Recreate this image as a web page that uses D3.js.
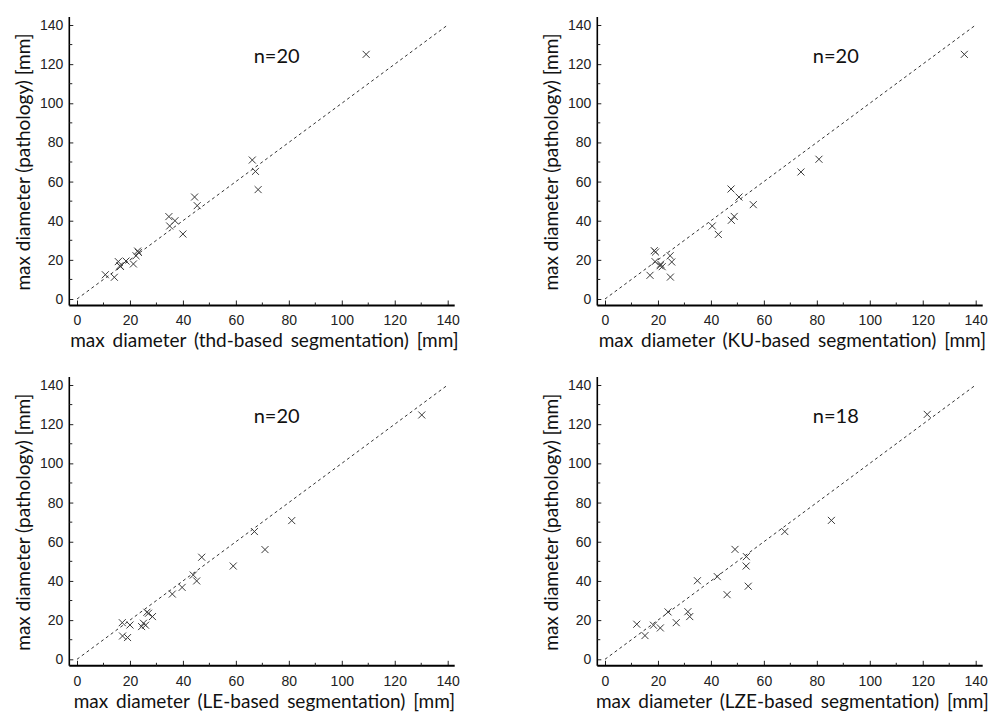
<!DOCTYPE html>
<html>
<head>
<meta charset="utf-8">
<script src="https://cdn.jsdelivr.net/npm/d3@7"></script>
<style>
  html, body { margin: 0; padding: 0; background: #fff; }
  svg { display: block; }
</style>
</head>
<body>
<svg id="chart" width="998" height="713"></svg>
<script>
// ---- data ----
const tickValues = [0, 20, 40, 60, 80, 100, 120, 140];
const minorTickValues = [10, 30, 50, 70, 90, 110, 130];
const yTitle = "max diameter (pathology) [mm]";
const panelTitles = [
  "max diameter (thd-based segmentation) [mm]",
  "max diameter (KU-based segmentation) [mm]",
  "max diameter (LE-based segmentation) [mm]",
  "max diameter (LZE-based segmentation) [mm]"
];
const panelCounts = ["n=20", "n=20", "n=20", "n=18"];

const thdX = [109.2, 66.2, 67.4, 68.4, 44.4, 45.4, 34.7, 35.0, 37.0, 40.0, 22.9, 23.2, 22.3, 21.3, 18.5, 15.6, 16.2, 16.4, 10.7, 14.1];
const thdY = [125.0, 71.0, 65.2, 55.9, 52.1, 47.7, 42.1, 37.3, 40.0, 33.2, 24.5, 23.8, 22.1, 17.9, 19.4, 19.1, 17.0, 16.6, 12.4, 11.1];

const kuX = [135.7, 80.8, 74.0, 47.6, 50.6, 56.0, 48.8, 47.7, 40.5, 42.8, 18.6, 19.1, 18.9, 20.8, 21.6, 24.6, 25.2, 17.0, 24.7, 21.0];
const kuY = [125.0, 71.4, 64.9, 56.2, 52.1, 48.2, 42.2, 40.2, 37.3, 33.0, 24.7, 24.0, 19.1, 17.0, 16.5, 22.1, 18.9, 12.1, 11.2, 17.8];

const leX = [130.2, 81.1, 71.0, 67.0, 59.0, 47.1, 43.9, 45.2, 39.7, 36.0, 26.4, 27.0, 28.5, 25.1, 24.4, 25.9, 17.1, 20.0, 17.2, 19.1];
const leY = [124.7, 70.8, 56.0, 65.2, 47.6, 52.1, 43.0, 40.0, 36.7, 33.3, 24.0, 23.5, 21.8, 18.4, 16.7, 17.4, 18.7, 17.5, 11.9, 11.1];

const lzeX = [121.7, 85.5, 67.9, 49.1, 53.4, 53.3, 54.1, 42.4, 34.9, 46.1, 23.8, 31.3, 32.0, 26.9, 18.3, 20.9, 12.0, 15.1];
const lzeY = [125.0, 70.9, 65.2, 56.1, 52.4, 47.6, 37.3, 42.2, 40.1, 33.0, 24.2, 24.3, 21.8, 18.7, 17.4, 16.0, 17.9, 12.1];

const identityLine = [0, 140];

// ---- layout ----
const panels = [
  { xs: thdX, ys: thdY, left: 77,  right: 447.7, bottom: 299,   top: 25 },
  { xs: kuX,  ys: kuY,  left: 605, right: 975.7, bottom: 299,   top: 25 },
  { xs: leX,  ys: leY,  left: 77,  right: 447.7, bottom: 659.3, top: 385 },
  { xs: lzeX, ys: lzeY, left: 605, right: 975.7, bottom: 659.3, top: 385 }
];

const svg = d3.select("#chart");
const tickFont = "'Liberation Sans', Arial, sans-serif";
const titleFont = "Lato, 'Open Sans', sans-serif";

panels.forEach((p, i) => {
  const x = d3.scaleLinear().domain([0, 140]).range([p.left, p.right]);
  const y = d3.scaleLinear().domain([0, 140]).range([p.bottom, p.top]);
  const g = svg.append("g");
  const axisX = p.left - 7.7;   // y axis line position
  const axisY = p.bottom + 6.5; // x axis line position
  const xEnd = p.right + 7;
  const yEnd = p.top - 8;

  // x axis
  const gx = g.append("g").attr("transform", `translate(0,${axisY})`);
  gx.call(d3.axisBottom(x).tickValues(tickValues).tickSize(-5).tickPadding(10).tickFormat(d3.format("d")));
  gx.select(".domain").remove();
  gx.append("line").attr("x1", axisX).attr("x2", xEnd).attr("y1", 0).attr("y2", 0)
    .attr("stroke", "#000").attr("stroke-width", 2);
  gx.selectAll(".minor").data(minorTickValues).join("line")
    .attr("x1", d => x(d)).attr("x2", d => x(d)).attr("y1", 0).attr("y2", -3)
    .attr("stroke", "#222").attr("stroke-width", 1);

  // y axis
  const gy = g.append("g").attr("transform", `translate(${axisX},0)`);
  gy.call(d3.axisLeft(y).tickValues(tickValues).tickSize(-4).tickPadding(6).tickFormat(d3.format("d")));
  gy.select(".domain").remove();
  gy.append("line").attr("x1", 0).attr("x2", 0).attr("y1", axisY).attr("y2", yEnd)
    .attr("stroke", "#000").attr("stroke-width", 1.6);
  gy.selectAll(".minor").data(minorTickValues).join("line")
    .attr("x1", 0).attr("x2", 3).attr("y1", d => y(d)).attr("y2", d => y(d))
    .attr("stroke", "#222").attr("stroke-width", 1);

  [gx, gy].forEach(a => {
    a.selectAll(".tick line").attr("stroke", "#222");
    a.selectAll(".tick text").attr("font-family", tickFont).attr("font-size", 14).attr("fill", "#222");
  });

  // identity dashed line
  g.append("line")
    .attr("x1", x(identityLine[0])).attr("y1", y(identityLine[0]))
    .attr("x2", x(identityLine[1])).attr("y2", y(identityLine[1]))
    .attr("stroke", "#333").attr("stroke-width", 1).attr("stroke-dasharray", "3,3");

  // markers
  const s = 3.5;
  const pts = p.xs.map((v, k) => [v, p.ys[k]]);
  g.selectAll(".pt").data(pts).join("path")
    .attr("class", "pt")
    .attr("d", d => {
      const cx = x(d[0]), cy = y(d[1]);
      return `M${cx - s},${cy - s}L${cx + s},${cy + s}M${cx - s},${cy + s}L${cx + s},${cy - s}`;
    })
    .attr("stroke", "#3a3a3a").attr("stroke-width", 1).attr("fill", "none");

  // n label
  g.append("text")
    .attr("x", x(0) + (i % 2 === 0 ? 199.7 : 230.8)).attr("y", p.top + 33)
    .attr("text-anchor", "middle").attr("dominant-baseline", "middle")
    .attr("font-family", titleFont).attr("font-size", 20).attr("fill", "#111")
    .text(panelCounts[i]);

  // x title
  g.append("text")
    .attr("x", (x(0) + x(140)) / 2 + 2).attr("y", axisY + 37)
    .attr("text-anchor", "middle").attr("dominant-baseline", "middle")
    .attr("font-family", titleFont).attr("font-size", 19).attr("fill", "#111")
    .attr("word-spacing", 3)
    .text(panelTitles[i]);

  // y title
  g.append("text")
    .attr("transform", `translate(${axisX - 44},${(p.top + p.bottom) / 2}) rotate(-90)`)
    .attr("text-anchor", "middle").attr("dominant-baseline", "middle")
    .attr("font-family", titleFont).attr("font-size", 19).attr("fill", "#111")
    .text(yTitle);
});
</script>
</body>
</html>
